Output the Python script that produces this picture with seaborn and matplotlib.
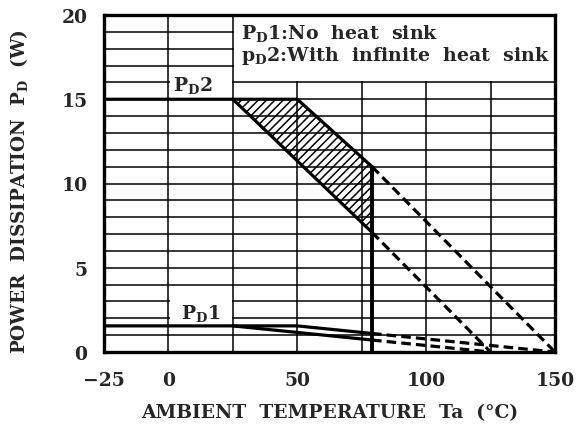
import matplotlib
matplotlib.use("Agg")
import matplotlib.pyplot as plt
from matplotlib.ticker import MultipleLocator, FixedLocator
from matplotlib.patches import Rectangle
import seaborn as sns
import pandas as pd

# ---- data ----
pd2_upper_T = [-25, 50, 79]
pd2_upper_W = [15, 15, 11]
pd2_upper_dash_T = [79, 150]
pd2_upper_dash_W = [11, 0]
pd2_lower_T = [25, 79]
pd2_lower_W = [15, 7.1]
pd2_lower_dash_T = [79, 125]
pd2_lower_dash_W = [7.1, 0]

pd1_upper_T = [-25, 50, 79]
pd1_upper_W = [1.55, 1.55, 1.1]
pd1_upper_dash_T = [79, 150]
pd1_upper_dash_W = [1.1, 0]
pd1_lower_T = [25, 79]
pd1_lower_W = [1.55, 0.71]
pd1_lower_dash_T = [79, 125]
pd1_lower_dash_W = [0.71, 0]

cut_T = [79, 79]
cut_W = [0, 11]

x_ticks = [-25, 0, 50, 100, 150]
y_ticks = [0, 5, 10, 15, 20]

sns.set_style("white")
plt.rcParams["font.family"] = ["DejaVu Serif"]
plt.rcParams["font.weight"] = "bold"
plt.rcParams["mathtext.fontset"] = "custom"
plt.rcParams["mathtext.rm"] = "DejaVu Serif:bold"
plt.rcParams["mathtext.it"] = "DejaVu Serif:bold"
plt.rcParams["mathtext.bf"] = "DejaVu Serif:bold"
plt.rcParams["hatch.linewidth"] = 1.1

fig = plt.figure(figsize=(5.76, 4.39), dpi=100)
ax = fig.add_axes([104 / 576, 1 - 353 / 439, (555 - 104) / 576, (353 - 16) / 439])

ax.set_xlim(-25, 150)
ax.set_ylim(0, 20)

# grid
ax.xaxis.set_minor_locator(MultipleLocator(25))
ax.yaxis.set_minor_locator(MultipleLocator(1))
ax.xaxis.set_major_locator(FixedLocator(x_ticks))
ax.yaxis.set_major_locator(FixedLocator(y_ticks))
ax.grid(which="both", color="black", linewidth=1.1)
ax.set_axisbelow(True)
ax.tick_params(which="both", length=0)
ax.tick_params(axis="x", pad=14, labelsize=13.5)
ax.tick_params(axis="y", pad=12, labelsize=13.5)
for s in ax.spines.values():
    s.set_linewidth(2.4)
    s.set_color("black")
    s.set_zorder(10)

# white boxes covering grid (labels / legend)
ax.add_patch(Rectangle((25.5, 16.06), 125, 4, facecolor="white", edgecolor="none", zorder=1.5))
ax.add_patch(Rectangle((0.5, 15.06), 24.0, 1.88, facecolor="white", edgecolor="none", zorder=1.5))
ax.add_patch(Rectangle((0.5, 1.6), 24.0, 2.34, facecolor="white", edgecolor="none", zorder=1.5))

# hatched region
hx = [pd2_lower_T[0], pd2_upper_T[1], pd2_upper_T[2], pd2_lower_T[1]]
hy = [pd2_lower_W[0], pd2_upper_W[1], pd2_upper_W[2], pd2_lower_W[1]]
ax.fill(hx, hy, facecolor="none", edgecolor="black", linewidth=0, hatch="////", zorder=2)

lw = 2.3
def line(T, W, dashed=False, lwid=lw):
    df = pd.DataFrame({"T": T, "W": W})
    l = sns.lineplot(data=df, x="T", y="W", ax=ax, color="black", linewidth=lwid,
                     estimator=None, sort=False, zorder=3)
    if dashed:
        l.lines[-1].set_dashes((3.0, 1.6))
    return l

line(pd2_upper_T, pd2_upper_W)
line(pd2_upper_dash_T, pd2_upper_dash_W, dashed=True)
line(pd2_lower_T, pd2_lower_W)
line(pd2_lower_dash_T, pd2_lower_dash_W, dashed=True)
line(pd1_upper_T, pd1_upper_W)
line(pd1_upper_dash_T, pd1_upper_dash_W, dashed=True)
line(pd1_lower_T, pd1_lower_W)
line(pd1_lower_dash_T, pd1_lower_dash_W, dashed=True)
line(cut_T, cut_W, lwid=2.8)

# labels
ax.text(9.5, 15.85, r"P$_\mathrm{D}$2", fontsize=13.5, ha="center", va="center", zorder=4)
ax.text(12.5, 2.35, r"P$_\mathrm{D}$1", fontsize=13.5, ha="center", va="center", zorder=4)
ax.text(28.3, 18.95, r"P$_\mathrm{D}$1:No  heat  sink", fontsize=13.7, ha="left", va="center", zorder=4)
ax.text(28.3, 17.6, r"p$_\mathrm{D}$2:With  infinite  heat  sink", fontsize=13.7, ha="left", va="center", zorder=4)

ax.set_xlabel("AMBIENT  TEMPERATURE  Ta  (°C)", fontsize=13.5, fontweight="bold", labelpad=10)
ax.set_ylabel(r"POWER  DISSIPATION  P$_\mathrm{D}$  (W)", fontsize=13.2, fontweight="bold")
ax.yaxis.set_label_coords(-0.165, 0.48)

fig.savefig("out.png", dpi=100)
